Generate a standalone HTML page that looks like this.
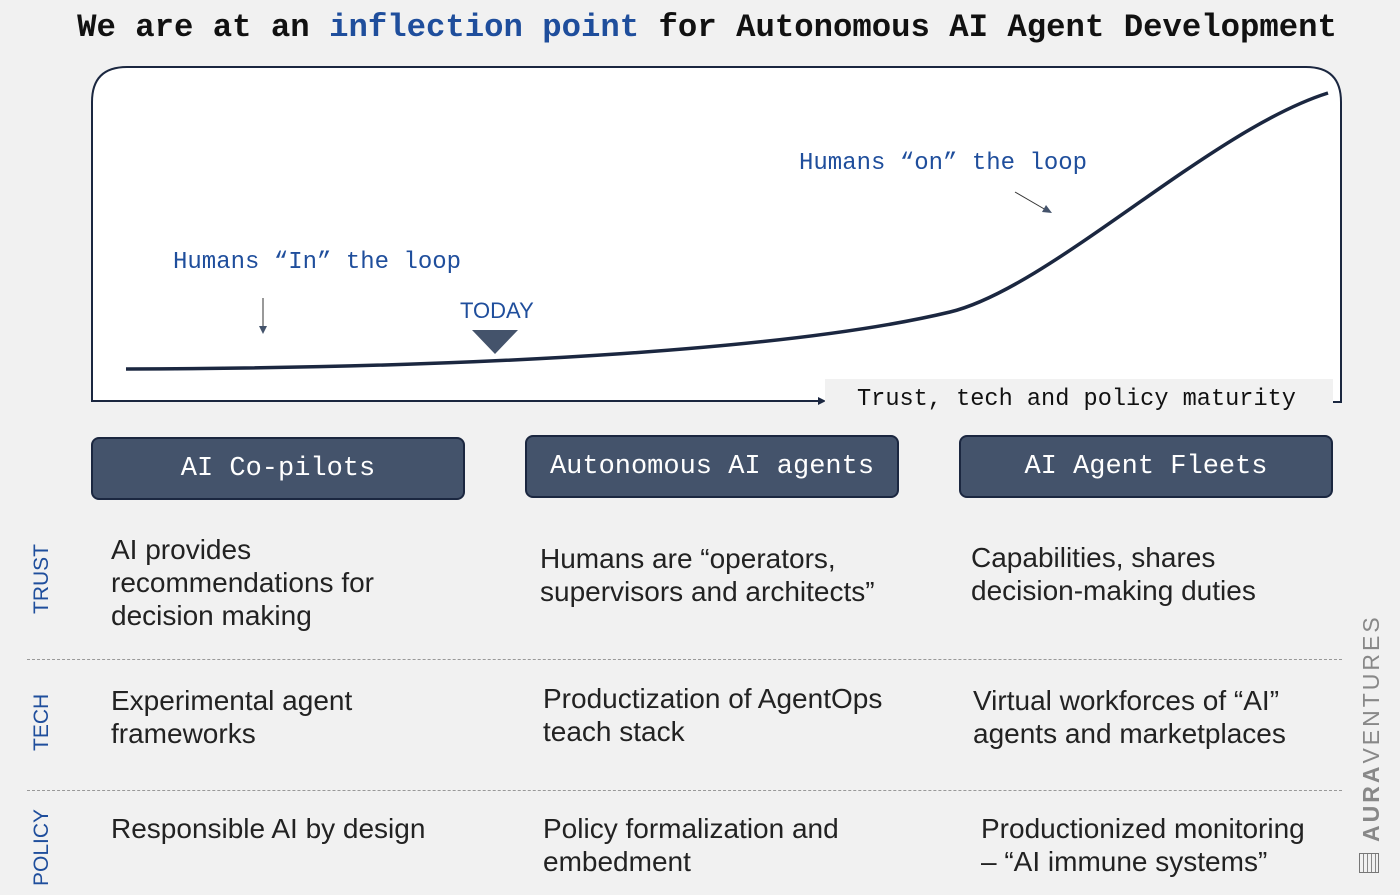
<!DOCTYPE html>
<html><head><meta charset="utf-8"><style>
body{margin:0;width:1400px;height:895px;background:#f1f1f1;position:relative;overflow:hidden;font-family:"Liberation Sans",sans-serif}
.a{position:absolute}
.mono{font-family:"Liberation Mono",monospace}
.hdr{position:absolute;background:#44536b;border:2px solid #1b2740;border-radius:8px;color:#fff;font-family:"Liberation Mono",monospace;font-size:27px;display:flex;align-items:center;justify-content:center;box-sizing:border-box}
.t{position:absolute;font-size:28px;color:#222;line-height:33px;white-space:nowrap}
.side{position:absolute;color:#1f4e9c;font-size:21px;transform:rotate(-90deg);transform-origin:left top;white-space:nowrap}
.dash{position:absolute;left:27px;width:1315px;border-top:1px dashed #999}
</style></head><body>
<div class="a mono" style="left:0;width:1414px;top:9px;text-align:center;font-size:32.3px;font-weight:bold;color:#111;white-space:nowrap">We are at an <span style="color:#1f4e9c">inflection point</span> for Autonomous AI Agent Development</div>
<svg class="a" style="left:0;top:0" width="1400" height="430">
<path d="M92,402 V102 Q92,67 127,67 H1306 Q1341,67 1341,102 V402 H1333" fill="#fff" stroke="#1b2740" stroke-width="2"/>
<line x1="92" y1="401" x2="822" y2="401" stroke="#1b2740" stroke-width="2"/>
<polygon points="826,401 818,397 818,405" fill="#1b2740"/>
<rect x="825" y="379" width="508" height="42" fill="#f1f1f1"/>
<path d="M126,369 C 500,368 800,348 950,312 C 1050,288 1210,130 1328,93" fill="none" stroke="#1b2740" stroke-width="3.5"/>
<line x1="263" y1="298" x2="263" y2="328" stroke="#333" stroke-width="1"/>
<polygon points="263,334 259,326 267,326" fill="#44536b"/>
<polygon points="472,330 518,330 495,354" fill="#44536b"/>
<line x1="1015" y1="192" x2="1046" y2="210" stroke="#333" stroke-width="1"/>
<polygon points="1052,213 1042,212 1046,205" fill="#44536b"/>
</svg>
<div class="a mono" style="left:857px;top:386px;font-size:23.6px;color:#111;white-space:nowrap">Trust, tech and policy maturity</div>
<div class="a mono" style="left:173px;top:249px;font-size:24px;color:#1f4e9c;white-space:nowrap">Humans “In” the loop</div>
<div class="a mono" style="left:799px;top:150px;font-size:24px;color:#1f4e9c;white-space:nowrap">Humans “on” the loop</div>
<div class="a" style="left:460px;top:298px;font-size:22px;color:#1f4e9c">TODAY</div>
<div class="hdr" style="left:91px;top:437px;width:374px;height:63px">AI Co-pilots</div>
<div class="hdr" style="left:525px;top:435px;width:374px;height:63px">Autonomous AI agents</div>
<div class="hdr" style="left:959px;top:435px;width:374px;height:63px">AI Agent Fleets</div>
<div class="side" style="left:30px;top:614px">TRUST</div>
<div class="side" style="left:30px;top:751px">TECH</div>
<div class="side" style="left:30px;top:886px">POLICY</div>
<div class="dash" style="top:659px"></div>
<div class="dash" style="top:790px"></div>
<div class="t" style="left:111px;top:533px">AI provides<br>recommendations for<br>decision making</div>
<div class="t" style="left:540px;top:542px">Humans are “operators,<br>supervisors and architects”</div>
<div class="t" style="left:971px;top:541px">Capabilities, shares<br>decision-making duties</div>
<div class="t" style="left:111px;top:684px">Experimental agent<br>frameworks</div>
<div class="t" style="left:543px;top:682px">Productization of AgentOps<br>teach stack</div>
<div class="t" style="left:973px;top:684px">Virtual workforces of “AI”<br>agents and marketplaces</div>
<div class="t" style="left:111px;top:812px">Responsible AI by design</div>
<div class="t" style="left:543px;top:812px">Policy formalization and<br>embedment</div>
<div class="t" style="left:981px;top:812px">Productionized monitoring<br>– “AI immune systems”</div>
<div class="a" style="left:1358px;top:842px;transform:rotate(-90deg);transform-origin:left top;font-size:23px;letter-spacing:3px;color:#888;white-space:nowrap"><b>AURA</b>VENTURES</div>
<div class="a" style="left:1359px;top:853px;width:20px;height:20px;border:1px solid #777;box-sizing:border-box;background:repeating-linear-gradient(90deg,#f1f1f1 0 3px,#888 3px 4px)"></div>
</body></html>
